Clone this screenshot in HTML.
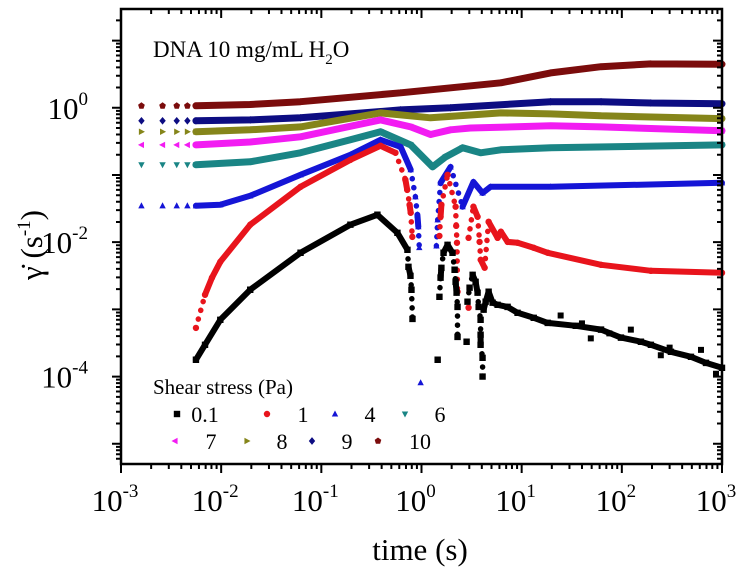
<!DOCTYPE html>
<html><head><meta charset="utf-8"><style>
html,body{margin:0;padding:0;background:#fff;}
svg{display:block;font-family:"Liberation Serif",serif;}
</style></head><body>
<svg id="chart" width="748" height="575" viewBox="0 0 748 575" xmlns="http://www.w3.org/2000/svg">
<g id="marks"></g>
<g id="axes"></g>
<text x="153" y="57" font-size="23">DNA 10 mg/mL H<tspan font-size="15" dy="7">2</tspan><tspan dy="-7">O</tspan></text>
<text x="420" y="560" font-size="31" text-anchor="middle">time (s)</text>
<g transform="translate(42,245) rotate(-90)">
<text x="0" y="0" font-size="31" text-anchor="middle">γ̇ (s<tspan font-size="19" dy="-12">-1</tspan><tspan dy="12">)</tspan></text>
</g>
<g id="legend">
<text x="153" y="394" font-size="21">Shear stress (Pa)</text>
</g>
</svg>
<script>
// ---- data (null = gap in the trace) ----
const s10T = [0.0016,0.0026,0.0036,0.0046,0.0056,0.0195,0.062,0.62,6.2,19.5,62,195,1000];
const s10G = [1.07,1.07,1.07,1.07,1.07,1.12,1.23,1.67,2.35,3.3,4.08,4.5,4.45];
const s9T = [0.0016,0.0026,0.0036,0.0046,0.0056,0.0195,0.062,0.62,1.95,19.5,62,195,1000];
const s9G = [0.64,0.64,0.64,0.64,0.64,0.66,0.71,0.93,1.0,1.23,1.23,1.18,1.15];
const s8T = [0.0016,0.0026,0.0036,0.0046,0.0056,0.0195,0.062,0.39,1.23,6.2,19.5,62,1000];
const s8G = [0.44,0.44,0.44,0.44,0.44,0.47,0.52,0.84,0.71,0.84,0.81,0.76,0.69];
const s7T = [0.0016,0.0026,0.0036,0.0046,0.0056,0.0195,0.062,0.39,0.78,1.23,1.95,3.09,19.5,62,1000];
const s7G = [0.28,0.28,0.28,0.28,0.28,0.31,0.37,0.66,0.52,0.40,0.47,0.5,0.54,0.52,0.455];
const s6T = [0.0016,0.0026,0.0036,0.0046,0.0056,0.0195,0.062,0.195,0.39,0.78,1.29,1.74,2.57,3.89,6.2,19.5,1000];
const s6G = [0.142,0.142,0.142,0.142,0.142,0.157,0.214,0.334,0.44,0.28,0.132,0.186,0.254,0.214,0.237,0.254,0.28];
const s4T = [0.0016,0.0026,0.0036,0.0046,0.0056,0.0098,0.0195,0.062,0.195,0.39,0.62,0.78,0.87,0.91,0.93,0.95,null,0.98,null,1.41,1.45,1.55,1.95,2.57,3.3,4.07,4.9,19.5,1000];
const s4G = [0.0348,0.0348,0.0348,0.0348,0.0348,0.036,0.049,0.1007,0.20,0.334,0.262,0.12,0.0474,0.0256,0.017,0.0083,null,0.000081,null,0.0088,0.0215,0.0766,0.132,0.0337,0.079,0.054,0.0667,0.0667,0.0766];
const s1T = [0.0056,0.0069,0.0081,0.0098,0.0195,0.062,0.195,0.39,0.55,0.69,0.72,0.76,0.78,0.81,null,1.51,1.55,1.58,1.82,2.19,2.22,2.26,2.29,null,2.95,null,2.95,3.3,3.63,3.8,3.9,4.27,4.68,5.75,6.2,7.24,9.1,13.2,18.2,62,195,1000];
const s1G = [0.00053,0.00165,0.00297,0.0051,0.0182,0.0667,0.168,0.272,0.214,0.085,0.060,0.036,0.0274,0.012,null,0.0124,0.0239,0.036,0.1007,0.0337,0.0175,0.0098,0.00183,null,0.00106,null,0.0116,0.0337,0.0239,0.0101,0.00547,0.00417,0.0201,0.0116,0.0143,0.0101,0.0098,0.00826,0.00696,0.0046,0.00375,0.0035];
const s01T = [0.0056,0.0069,0.0098,0.0195,0.062,0.195,0.363,0.575,0.724,0.741,0.776,0.794,0.813,null,1.45,null,1.51,1.55,1.58,1.66,1.82,2.04,2.14,2.19,2.24,2.29,2.29,null,2.82,null,2.88,3.02,3.24,3.47,3.63,3.72,3.89,3.89,3.89,4.07,4.07,null,4.17,4.37,4.68,5.13,5.75,7.24,9.1,13.2,18.2,34.7,62,98,155,195,309,490,692,1000];
const s01G = [0.000178,0.000297,0.0007,0.00196,0.00696,0.0182,0.0256,0.0138,0.0077,0.0043,0.00316,0.00196,0.00072,null,0.000178,null,0.00154,0.00297,0.00416,0.00696,0.00915,0.00696,0.00389,0.00257,0.00177,0.00109,0.00039,null,0.00033,null,0.0013,0.0021,0.00327,0.00257,0.00177,0.00109,0.0007,0.00042,0.000297,0.00019,0.0001,null,0.00099,0.0013,0.00183,0.00126,0.00117,0.00109,0.00089,0.00075,0.00063,0.00057,0.0005,0.00038,0.00033,0.000297,0.000234,0.000197,0.00016,0.000135];
const noiseT = [24.5,49,123,245,617,871,40,75,300];
const noiseG = [0.00081,0.00037,0.0005,0.000208,0.00025,0.00011,0.00062,0.00044,0.00027];
const xTickLabels = ["-3","-2","-1","0","1","2","3"];
const yTickLabels = ["0","-2","-4"];
const legendLabels = ["0.1","1","4","6","7","8","9","10"];

// ---- axes ----
const X0=121, X1=722, Y0=9, Y1=464;
const yTop=1.47, yBot=1.47-(464-9)/67.2;
function xs(t){ return X0 + (Math.log10(t)+3)*(X1-X0)/6; }
function ys(g){ return Y0 + (yTop-Math.log10(g))*(Y1-Y0)/(yTop-yBot); }
const NS='http://www.w3.org/2000/svg';
function mk(tag, attrs, parent){ const e=document.createElementNS(NS,tag); for(const k in attrs) e.setAttribute(k,attrs[k]); parent.appendChild(e); return e; }
const marks=document.getElementById('marks');
const axes=document.getElementById('axes');

function markerPath(shape, x, y, r){
  switch(shape){
    case 'square': return `M${x-r},${y-r}h${2*r}v${2*r}h${-2*r}z`;
    case 'circle': return `M${x-r},${y}a${r},${r} 0 1,0 ${2*r},0a${r},${r} 0 1,0 ${-2*r},0z`;
    case 'up': return `M${x},${y-r*1.1}L${x+r},${y+r*0.8}L${x-r},${y+r*0.8}z`;
    case 'down': return `M${x},${y+r*1.1}L${x+r},${y-r*0.8}L${x-r},${y-r*0.8}z`;
    case 'left': return `M${x-r*1.1},${y}L${x+r*0.8},${y-r}L${x+r*0.8},${y+r}z`;
    case 'right': return `M${x+r*1.1},${y}L${x-r*0.8},${y-r}L${x-r*0.8},${y+r}z`;
    case 'diamond': return `M${x},${y-r*1.2}L${x+r},${y}L${x},${y+r*1.2}L${x-r},${y}z`;
    case 'pent': { let p=''; for(let i=0;i<5;i++){const a=-Math.PI/2+i*2*Math.PI/5; p+=(i?'L':'M')+(x+r*1.1*Math.cos(a)).toFixed(1)+','+(y+r*1.1*Math.sin(a)).toFixed(1);} return p+'z'; }
  }
}
const series=[
 {name:'series-10pa',T:s10T,G:s10G,c:'#7b0c0c',s:'pent',w:7},
 {name:'series-9pa',T:s9T,G:s9G,c:'#0d0d82',s:'diamond',w:7},
 {name:'series-8pa',T:s8T,G:s8G,c:'#85851a',s:'right',w:7},
 {name:'series-7pa',T:s7T,G:s7G,c:'#f21cf2',s:'left',w:7},
 {name:'series-6pa',T:s6T,G:s6G,c:'#1a8585',s:'down',w:7},
 {name:'series-4pa',T:s4T,G:s4G,c:'#1515d6',s:'up',w:6},
 {name:'series-1pa',T:s1T,G:s1G,c:'#e8141c',s:'circle',w:6},
 {name:'series-0p1pa',T:s01T,G:s01G,c:'#000000',s:'square',w:6},
];
series.forEach(sr=>{
  const g=mk('g',{},marks);
  
  
  let d='', dd='';
  for(let i=1;i<sr.T.length;i++){
    if(sr.G[i-1]==null || sr.G[i]==null) continue;
    if(sr.T[i-1]<0.005) continue;
    const xa=xs(sr.T[i-1]), ya=ys(sr.G[i-1]), xb=xs(sr.T[i]), yb=ys(sr.G[i]);
    const dy=Math.abs(yb-ya), dx=Math.abs(xb-xa);
    if(dy>75) continue;
    const seg=`M${xa.toFixed(1)},${ya.toFixed(1)}L${xb.toFixed(1)},${yb.toFixed(1)}`;
    if(dy>12 && dy>2.5*dx) dd+=seg; else d+=seg;
  }
  const ln=mk('path',{d:d,stroke:sr.c,'stroke-width':sr.w,fill:'none','stroke-linecap':'round','stroke-linejoin':'round'},g);
  
  
  const dl=mk('path',{d:dd,stroke:sr.c,'stroke-width':5.5,fill:'none','stroke-linecap':'round','stroke-dasharray':'0.1 9'},g);
  
  
  let md='';
  for(let i=0;i<sr.T.length;i++){ if(sr.G[i]==null) continue; md+=markerPath(sr.s, xs(sr.T[i]), ys(sr.G[i]), 3.2); }
  const mp=mk('path',{d:md,fill:sr.c},g);
  
  
});
{
  let md='';
  for(let i=0;i<noiseT.length;i++) md+=markerPath('square', xs(noiseT[i]), ys(noiseG[i]), 3);
  const np=mk('path',{d:md,fill:'#000'},marks);
  
  
}

// frame and ticks
const fr=mk('rect',{x:X0,y:Y0,width:X1-X0,height:Y1-Y0,fill:'none',stroke:'#000','stroke-width':2.5},axes);


let td='';
for(let dec=-3;dec<3;dec++){
  for(let k=1;k<10;k++){
    const x=xs(k*Math.pow(10,dec));
    const L = k===1?9:5;
    td+=`M${x},${Y1}v${L}M${x},${Y0}v${L}`;
  }
}
td+=`M${X1},${Y1}v9M${X1},${Y0}v9`;
for(let dec=-6;dec<2;dec++){
  for(let k=1;k<10;k++){
    const v=k*Math.pow(10,dec);
    const y=ys(v);
    if(y<Y0||y>Y1) continue;
    const L = k===1?9:5;
    td+=`M${X0},${y}h${-L}M${X1},${y}h${-L}`;
  }
}
const tk=mk('path',{d:td,stroke:'#000','stroke-width':2,fill:'none'},axes);



xTickLabels.forEach((e,i)=>{
  const x=xs(Math.pow(10,+e));
  const t=mk('text',{x:x-6,y:511,'font-size':31,'text-anchor':'middle'},axes);
  
  
  t.textContent='10';
  const s=mk('tspan',{'font-size':19,dy:-14},t);
  s.textContent=e;
});
yTickLabels.forEach(e=>{
  const y=ys(Math.pow(10,+e));
  const t=mk('text',{x:88,y:y+11,'font-size':31,'text-anchor':'end'},axes);
  
  
  t.textContent='10';
  const s=mk('tspan',{'font-size':19,dy:-14},t);
  s.textContent=e;
});

// legend
const leg=document.getElementById('legend');
const legPos=[[177,414,205],[267,414,303],[335,414,370],[405,414,440],[175,441,211],[247,441,282],[312,441,347],[378,441,420]];
const legShapes=['square','circle','up','down','left','right','diamond','pent'];
const legColors=['#000000','#e8141c','#1515d6','#1a8585','#f21cf2','#85851a','#0d0d82','#7b0c0c'];
legendLabels.forEach((lab,i)=>{
  const g=mk('g',{},leg);
  
  
  const p=legPos[i];
  mk('path',{d:markerPath(legShapes[i],p[0],p[1],3.2),fill:legColors[i]},g);
  const t=mk('text',{x:p[2],y:p[1]+8,'font-size':22,'text-anchor':'middle'},g);
  t.textContent=lab;
});
</script>
</body></html>
